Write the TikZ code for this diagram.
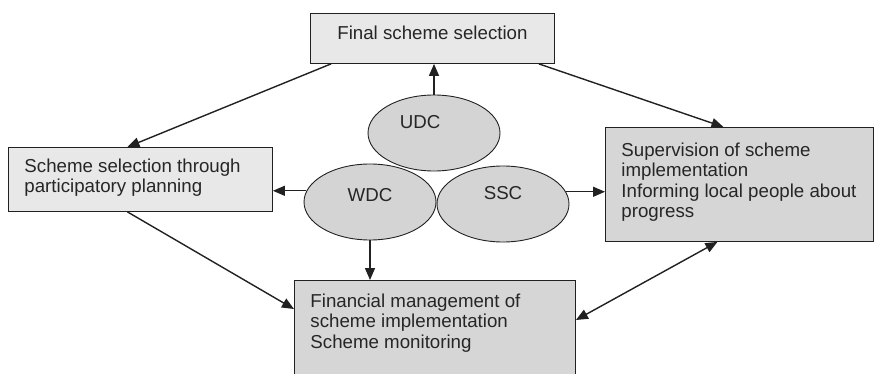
\documentclass[tikz,border=0pt]{standalone}
\usepackage{fontspec}
\setmainfont{Liberation Sans}
\usetikzlibrary{arrows.meta,shapes.geometric}

\definecolor{palegray}{gray}{0.91}
\definecolor{boxgray}{gray}{0.84}
\definecolor{clubgray}{gray}{0.83}
\definecolor{inkgray}{gray}{0.13}

% text of a box, held to the top left of the box
\newcommand{\boxtext}[3]{\parbox[c][#2][t]{#1}{\raggedright #3}}

\tikzset{
	panel/.style={rectangle, draw=inkgray, line width=0.9pt, anchor=north west,
		inner xsep=16pt, inner ysep=13pt},
	club/.style={ellipse, draw=inkgray, line width=0.9pt, fill=clubgray,
		minimum width=132pt, minimum height=76pt, inner sep=0pt},
	arr/.style={draw=inkgray, line width=1.4pt, -{Triangle[length=12pt,width=10pt]}},
	dblarr/.style={arr, {Triangle[length=12pt,width=10pt]}-{Triangle[length=12pt,width=10pt]}}
}

\begin{document}
\begin{tikzpicture}[x=1pt, y=-1pt, font=\fontsize{18.7}{20.5}\selectfont, text=black!85]
		%%%%% START %%%%%
		\useasboundingbox (0, 0) rectangle (874, 374);
		
		% the four boxes
		\node[panel, fill=palegray] (final) at (310, 13)
			{\parbox[c][24pt][t]{212pt}{\centering Final scheme selection}};
		\node[panel, fill=palegray, inner ysep=11pt] (sel) at (8, 147)
			{\boxtext{232pt}{42pt}{Scheme selection through\\participatory planning}};
		\node[panel, fill=boxgray, inner ysep=15pt] (sup) at (605, 127)
			{\boxtext{236pt}{84pt}{Supervision of scheme\\implementation\\Informing local people about\\progress}};
		\node[panel, fill=boxgray] (fin) at (294, 280)
			{\boxtext{249pt}{90pt}{Financial management of\\scheme implementation\\Scheme monitoring}};
		
		% the three committees
		\node[club, label={[name=udclab, xshift=-14pt, yshift=11pt]center:UDC}] (udc) at (434, 133) {};
		\node[club, label={[name=wdclab, yshift=7pt]center:WDC}] (wdc) at (370, 202) {};
		\node[club, label={[name=ssclab, yshift=11pt]center:SSC}] (ssc) at (503, 204) {};
		
		% arrows out of the committees
		\draw[arr] (udc.north) -- (udc.north |- final.south);
		\draw[arr] (wdc.south) -- (wdc.south |- fin.north);
		\draw[arr] (wdc.170) -- (wdc.170 -| sel.east);
		\draw[arr] (ssc.11) -- (ssc.11 -| sup.west);
		
		% arrows between the boxes
		\draw[arr] ([xshift=21pt]final.south west) -- ([xshift=-13pt]sel.north);
		\draw[arr] ([xshift=-16pt]final.south east) -- ([xshift=-16pt]sup.north);
		\draw[arr] ([xshift=-13pt]sel.south) -- ([yshift=-29pt]fin.north west);
		\draw[dblarr] ([yshift=-40pt]fin.north east) -- ([xshift=-22pt]sup.south);
		%%%%% END %%%%%
\end{tikzpicture}
\end{document}
